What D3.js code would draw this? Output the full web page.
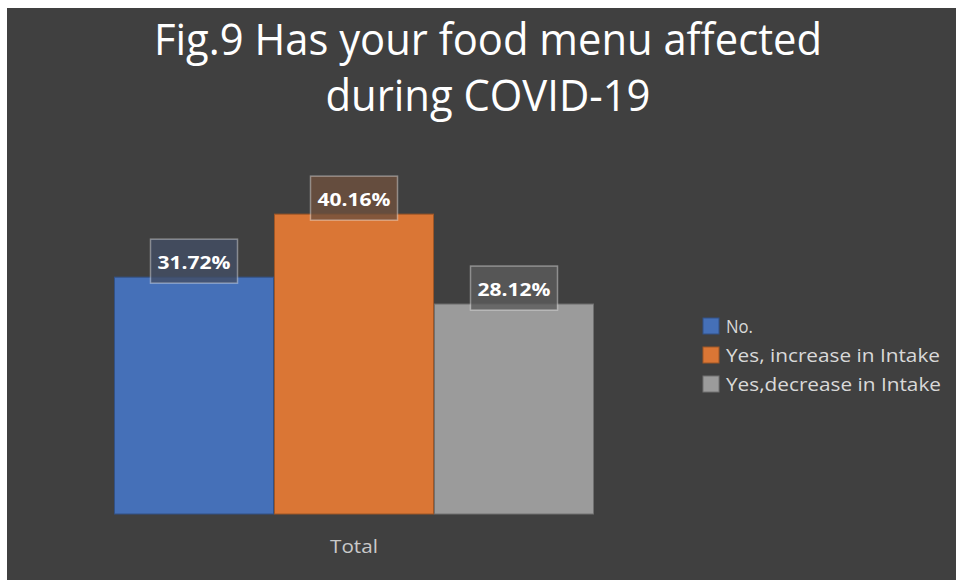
<!DOCTYPE html>
<html>
<head>
<meta charset="utf-8">
<script src="https://cdn.jsdelivr.net/npm/d3@7/dist/d3.min.js"></script>
<style>
  html, body { margin: 0; padding: 0; background: #ffffff; }
  svg { display: block; font-family: "Open Sans", "Noto Sans", sans-serif; }
</style>
</head>
<body>
<svg id="chart" width="956" height="580"></svg>
<script>
// data
var categories = ["Total"];
var seriesNames = ["No.", "Yes, increase in Intake", "Yes,decrease in Intake"];
var seriesValues = [31.72, 40.16, 28.12];
var seriesColors = ["#4570b8", "#da7635", "#9b9b9b"];
var titleLines = ["Fig.9 Has your food menu affected", "during COVID-19"];

var bg = "#404040";
var svg = d3.select("#chart");

// dark chart area (white frame left/top like the screenshot)
svg.append("rect").attr("x", 7).attr("y", 8).attr("width", 949).attr("height", 572).attr("fill", bg);

// squeeze text to a given width, the fonts are wider than Calibri
function fit(sel, w) {
    sel.each(function () {
        if (this.getComputedTextLength() > 0) {
            d3.select(this).attr("textLength", w).attr("lengthAdjust", "spacingAndGlyphs");
        }
    });
}

// title
var title = svg.append("g").attr("fill", "#ffffff").attr("text-anchor", "middle");
title.append("text").attr("x", 488).attr("y", 55).attr("font-size", 44).text(titleLines[0]).call(fit, 668);
title.append("text").attr("x", 488).attr("y", 111).attr("font-size", 44).text(titleLines[1]).call(fit, 325);

// scales
var x = d3.scaleBand().domain(categories).range([114, 594]).paddingInner(0).paddingOuter(0);
var xs = d3.scaleBand().domain(seriesNames).range([0, x.bandwidth()]);
var y = d3.scaleLinear().domain([0, 45]).range([514, 178]);
var color = d3.scaleOrdinal().domain(seriesNames).range(seriesColors);

var rows = seriesNames.map(function (n, i) { return {name: n, value: seriesValues[i], cat: categories[0]}; });

// bars
svg.append("g").selectAll("rect").data(rows).join("rect")
    .attr("x", function (d) { return x(d.cat) + xs(d.name) + 0.5; })
    .attr("y", function (d) { return y(d.value); })
    .attr("width", xs.bandwidth() - 1)
    .attr("height", function (d) { return y(0) - y(d.value); })
    .attr("fill", function (d) { return color(d.name); })
    .attr("stroke", function (d) { return d3.color(color(d.name)).darker(0.9); })
    .attr("stroke-width", 1);

// data labels in translucent boxes
var lab = svg.append("g").selectAll("g").data(rows).join("g")
    .attr("transform", function (d) { return "translate(" + (x(d.cat) + xs(d.name) + xs.bandwidth() / 2) + "," + y(d.value) + ")"; });
lab.append("rect")
    .attr("x", -43.5).attr("y", -38).attr("width", 87).attr("height", 44)
    .attr("fill", function (d) { return d3.interpolateRgb(bg, color(d.name))(0.3); })
    .attr("fill-opacity", 0.8)
    .attr("stroke", "rgba(255,255,255,0.38)").attr("stroke-width", 1.5);
lab.append("text")
    .attr("y", -8).attr("text-anchor", "middle")
    .attr("font-size", 17).attr("font-weight", "bold").attr("fill", "#ffffff")
    .text(function (d) { return d.value.toFixed(2) + "%"; })
    .call(fit, 73);

// category axis label
var xAxis = svg.append("g").attr("transform", "translate(0,514)")
    .call(d3.axisBottom(x).tickSize(0).tickPadding(0));
xAxis.select(".domain").remove();
xAxis.selectAll("text").attr("y", 39).attr("dy", 0)
    .attr("font-size", 19).attr("font-family", "\"Open Sans\", sans-serif").attr("fill", "#c9c9c9")
    .call(fit, 48);

// legend
var leg = svg.append("g").selectAll("g").data(seriesNames).join("g")
    .attr("transform", function (d, i) { return "translate(703," + (318 + i * 29) + ")"; });
leg.append("rect").attr("width", 16).attr("height", 16)
    .attr("fill", function (d) { return color(d); })
    .attr("stroke", function (d) { return d3.color(color(d)).darker(0.9); });
leg.append("text").attr("x", 23).attr("y", 15)
    .attr("font-size", 18).attr("fill", "#d9d9d9")
    .text(function (d) { return d; })
    .each(function (d, i) { d3.select(this).call(fit, [27, 214, 215][i]); });
</script>
</body>
</html>
